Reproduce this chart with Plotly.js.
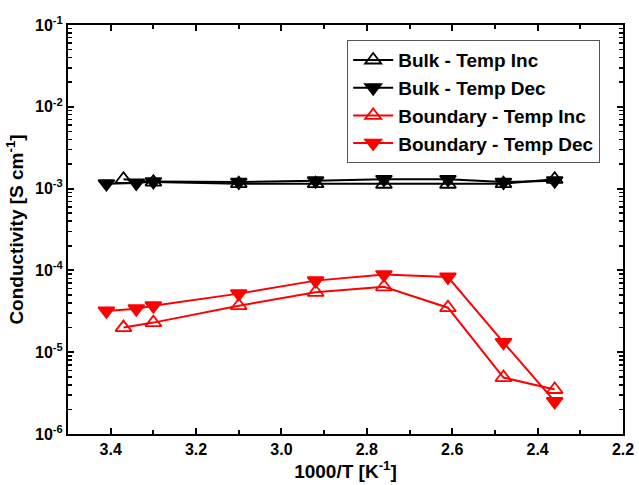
<!DOCTYPE html>
<html><head><meta charset="utf-8">
<script src="https://cdn.plot.ly/plotly-3.0.1.min.js"></script>
<style>html,body{margin:0;padding:0;background:#fff}</style>
</head><body><div id="chart" style="width:639px;height:485px"></div>
<script>
const bulkIncX = [3.37, 3.30, 3.10, 2.92, 2.76, 2.61, 2.48, 2.36];
const bulkIncY = [1.3e-3, 1.2e-3, 1.15e-3, 1.15e-3, 1.13e-3, 1.13e-3, 1.15e-3, 1.3e-3];
const bulkDecX = [3.41, 3.34, 3.30, 3.10, 2.92, 2.76, 2.61, 2.48, 2.36];
const bulkDecY = [1.15e-3, 1.17e-3, 1.22e-3, 1.2e-3, 1.25e-3, 1.3e-3, 1.3e-3, 1.2e-3, 1.25e-3];
const bndIncX = [3.37, 3.30, 3.10, 2.92, 2.76, 2.61, 2.48, 2.36];
const bndIncY = [2.0e-5, 2.3e-5, 3.7e-5, 5.4e-5, 6.3e-5, 3.5e-5, 4.9e-6, 3.5e-6];
const bndDecX = [3.41, 3.34, 3.30, 3.10, 2.92, 2.76, 2.61, 2.48, 2.36];
const bndDecY = [3.2e-5, 3.4e-5, 3.7e-5, 5.2e-5, 7.5e-5, 8.9e-5, 8.3e-5, 1.32e-5, 2.5e-6];
const names = ["Bulk - Temp Inc", "Bulk - Temp Dec", "Boundary - Temp Inc", "Boundary - Temp Dec"];
const yTickVals = [1e-6, 1e-5, 1e-4, 1e-3, 1e-2, 1e-1];
const yTickText = ["10<sup>-6</sup>", "10<sup>-5</sup>", "10<sup>-4</sup>", "10<sup>-3</sup>", "10<sup>-2</sup>", "10<sup>-1</sup>"];
const xTickVals = [3.4, 3.2, 3.0, 2.8, 2.6, 2.4, 2.2];
const xTickText = ["3.4", "3.2", "3.0", "2.8", "2.6", "2.4", "2.2"];
const xMinorVals = [3.5, 3.3, 3.1, 2.9, 2.7, 2.5, 2.3];
const yMinorDigits = [2, 3, 4, 5, 6, 7, 8, 9];
const yMinorVals = [];
yTickVals.slice(0, -1).forEach(d => yMinorDigits.forEach(k => yMinorVals.push(d * k)));

function tr(x, y, name, color, sym) {
  return {x: x, y: y, name: name, type: 'scatter', mode: 'lines+markers',
    line: {color: color, width: 2},
    marker: {symbol: sym, size: 14, color: color, line: {color: color, width: 1.8}}};
}
const data = [
  {x: bulkIncX, y: bulkIncY, yaxis: 'y2', type: 'scatter', mode: 'markers',
    marker: {opacity: 0}, showlegend: false, hoverinfo: 'skip'},
  tr(bulkIncX, bulkIncY, names[0], '#000000', 'triangle-up-open'),
  tr(bulkDecX, bulkDecY, names[1], '#000000', 'triangle-down'),
  tr(bndIncX, bndIncY, names[2], '#ff0000', 'triangle-up-open'),
  tr(bndDecX, bndDecY, names[3], '#ff0000', 'triangle-down')
];
const fam = 'Liberation Sans, Arial, sans-serif';
const axisCommon = {ticks: 'inside', ticklen: 6, tickwidth: 2, tickcolor: '#000', showline: true, linewidth: 2,
  linecolor: '#000', mirror: 'ticks', showgrid: false, zeroline: false};
const layout = {
  width: 639, height: 485,
  margin: {l: 68, r: 16, t: 25, b: 51},
  paper_bgcolor: '#fff', plot_bgcolor: '#fff',
  font: {family: fam, size: 16, color: '#000', weight: 'bold'},
  showlegend: true,
  legend: {x: 0.503, y: 0.963, xanchor: 'left', yanchor: 'top',
    bordercolor: '#555', borderwidth: 1, bgcolor: '#fff',
    font: {family: fam, size: 19, color: '#000', weight: 'bold'},
    tracegroupgap: 0, itemwidth: 40},
  xaxis: Object.assign({}, axisCommon, {range: [3.5, 2.2], tickmode: 'array', tickvals: xTickVals, ticktext: xTickText,
    tickfont: {family: fam, size: 16, weight: 'bold'},
    minor: {tickmode: 'array', tickvals: xMinorVals, ticks: 'inside', ticklen: 4, tickwidth: 2, tickcolor: '#000', showgrid: false},
    title: {text: '1000/T [K<sup>-1</sup>]', font: {family: fam, size: 19, weight: 'bold'}, standoff: 6}}),
  yaxis: Object.assign({}, axisCommon, {type: 'log', range: [-6, -1], tickmode: 'array', tickvals: yTickVals, ticktext: yTickText,
    tickfont: {family: fam, size: 16, weight: 'bold'},
    title: {text: 'Conductivity [S cm<sup>-1</sup>]', font: {family: fam, size: 19, weight: 'bold'}, standoff: 6}}),
  yaxis2: {type: 'log', range: [-6, -1], overlaying: 'y', anchor: 'x', side: 'left',
    tickmode: 'array', tickvals: yMinorVals, showticklabels: false,
    ticks: 'inside', ticklen: 4, tickwidth: 1.5, tickcolor: '#000', mirror: 'ticks',
    showline: true, linewidth: 2, linecolor: '#000', showgrid: false, zeroline: false}
};
Plotly.newPlot('chart', data, layout, {displayModeBar: false, staticPlot: true});
</script></body></html>
